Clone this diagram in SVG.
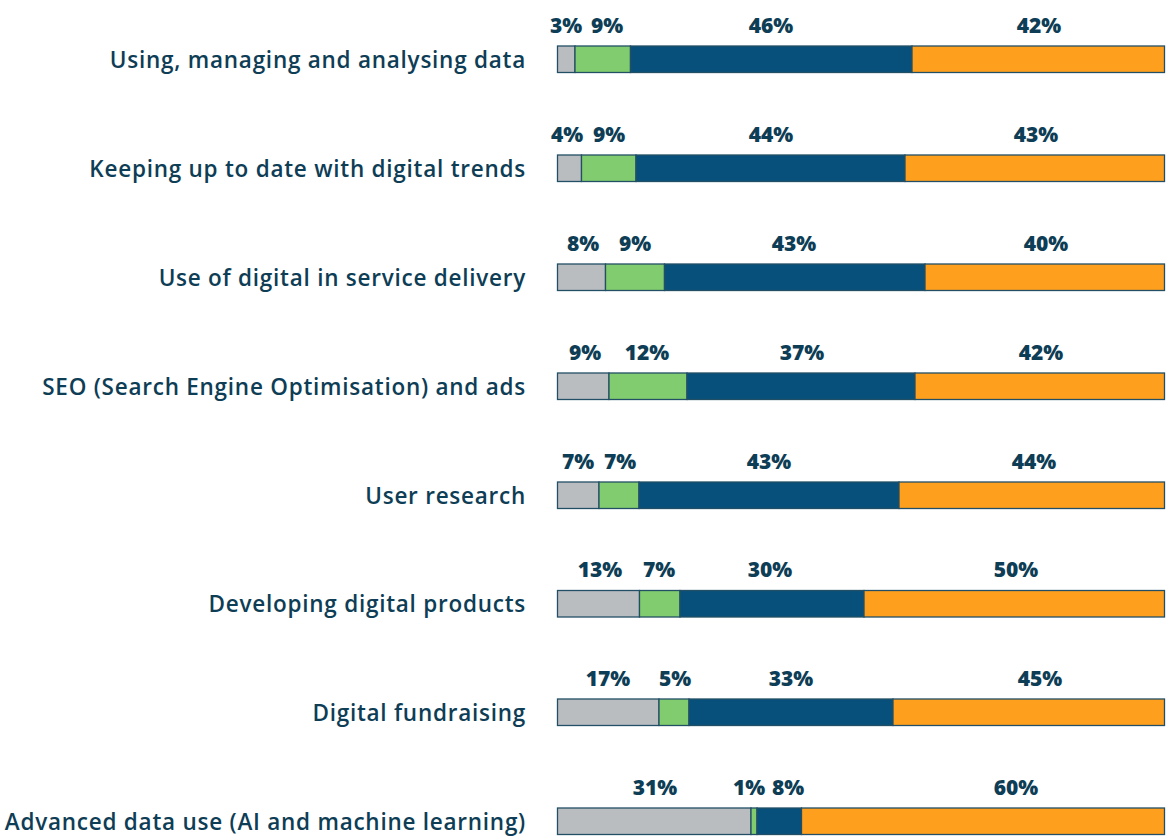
<svg xmlns="http://www.w3.org/2000/svg" width="1170" height="836" viewBox="0 0 1170 836">
<style>
.lbl{font-family:"Open Sans","Liberation Sans",sans-serif;font-size:22.5px;fill:#0e3d56;text-anchor:end;font-weight:600;letter-spacing:0.75px}
.pct{font-family:"Open Sans","Liberation Sans",sans-serif;font-size:21px;font-weight:800;fill:#0e3d56;text-anchor:middle}
.g{fill:#babdc0;stroke:#234f66;stroke-width:1.3}
.n{fill:#80cc6e;stroke:#234f66;stroke-width:1.3}
.b{fill:#07507b;stroke:#234f66;stroke-width:1.3}
.o{fill:#ff9f1e;stroke:#234f66;stroke-width:1.3}
</style>
<rect width="1170" height="836" fill="#ffffff"/>
<g id="row1">
<text class="lbl" x="526" y="68">Using, managing and analysing data</text>
<rect class="g" x="557.5" y="46" width="17.5" height="26.5"/>
<rect class="n" x="575" y="46" width="55.5" height="26.5"/>
<rect class="b" x="630.5" y="46" width="281.5" height="26.5"/>
<rect class="o" x="912" y="46" width="252.5" height="26.5"/>
<text class="pct" x="566" y="33">3%</text>
<text class="pct" x="607" y="33">9%</text>
<text class="pct" x="771" y="33">46%</text>
<text class="pct" x="1039" y="33">42%</text>
</g>
<g id="row2">
<text class="lbl" x="526" y="177">Keeping up to date with digital trends</text>
<rect class="g" x="557.5" y="155" width="24" height="26.5"/>
<rect class="n" x="581.5" y="155" width="54.5" height="26.5"/>
<rect class="b" x="636" y="155" width="269" height="26.5"/>
<rect class="o" x="905" y="155" width="259.5" height="26.5"/>
<text class="pct" x="567" y="142">4%</text>
<text class="pct" x="609" y="142">9%</text>
<text class="pct" x="771" y="142">44%</text>
<text class="pct" x="1036" y="142">43%</text>
</g>
<g id="row3">
<text class="lbl" x="526" y="286">Use of digital in service delivery</text>
<rect class="g" x="557.5" y="264" width="48" height="26.5"/>
<rect class="n" x="605.5" y="264" width="59" height="26.5"/>
<rect class="b" x="664.5" y="264" width="260.5" height="26.5"/>
<rect class="o" x="925" y="264" width="239.5" height="26.5"/>
<text class="pct" x="583" y="251">8%</text>
<text class="pct" x="635" y="251">9%</text>
<text class="pct" x="794" y="251">43%</text>
<text class="pct" x="1046" y="251">40%</text>
</g>
<g id="row4">
<text class="lbl" x="526" y="395">SEO (Search Engine Optimisation) and ads</text>
<rect class="g" x="557.5" y="373" width="51.5" height="26.5"/>
<rect class="n" x="609" y="373" width="78" height="26.5"/>
<rect class="b" x="687" y="373" width="228" height="26.5"/>
<rect class="o" x="915" y="373" width="249.5" height="26.5"/>
<text class="pct" x="585" y="360">9%</text>
<text class="pct" x="647" y="360">12%</text>
<text class="pct" x="802" y="360">37%</text>
<text class="pct" x="1041" y="360">42%</text>
</g>
<g id="row5">
<text class="lbl" x="526" y="504">User research</text>
<rect class="g" x="557.5" y="482" width="41.5" height="26.5"/>
<rect class="n" x="599" y="482" width="40" height="26.5"/>
<rect class="b" x="639" y="482" width="260" height="26.5"/>
<rect class="o" x="899" y="482" width="265.5" height="26.5"/>
<text class="pct" x="578" y="469">7%</text>
<text class="pct" x="620" y="469">7%</text>
<text class="pct" x="769" y="469">43%</text>
<text class="pct" x="1034" y="469">44%</text>
</g>
<g id="row6">
<text class="lbl" x="526" y="612">Developing digital products</text>
<rect class="g" x="557.5" y="590.5" width="82" height="26.5"/>
<rect class="n" x="639.5" y="590.5" width="40.5" height="26.5"/>
<rect class="b" x="680" y="590.5" width="184" height="26.5"/>
<rect class="o" x="864" y="590.5" width="300.5" height="26.5"/>
<text class="pct" x="600" y="577">13%</text>
<text class="pct" x="659" y="577">7%</text>
<text class="pct" x="770" y="577">30%</text>
<text class="pct" x="1016" y="577">50%</text>
</g>
<g id="row7">
<text class="lbl" x="526" y="721">Digital fundraising</text>
<rect class="g" x="557.5" y="699" width="101.5" height="26.5"/>
<rect class="n" x="659" y="699" width="30" height="26.5"/>
<rect class="b" x="689" y="699" width="204" height="26.5"/>
<rect class="o" x="893" y="699" width="271.5" height="26.5"/>
<text class="pct" x="608" y="686">17%</text>
<text class="pct" x="675" y="686">5%</text>
<text class="pct" x="791" y="686">33%</text>
<text class="pct" x="1040" y="686">45%</text>
</g>
<g id="row8">
<text class="lbl" x="526" y="830">Advanced data use (AI and machine learning)</text>
<rect class="g" x="557.5" y="808" width="193.5" height="26.5"/>
<rect class="n" x="751" y="808" width="6" height="26.5"/>
<rect class="b" x="757" y="808" width="44.5" height="26.5"/>
<rect class="o" x="801.5" y="808" width="363" height="26.5"/>
<text class="pct" x="655" y="795">31%</text>
<text class="pct" x="749" y="795">1%</text>
<text class="pct" x="788" y="795">8%</text>
<text class="pct" x="1016" y="795">60%</text>
</g>
</svg>
